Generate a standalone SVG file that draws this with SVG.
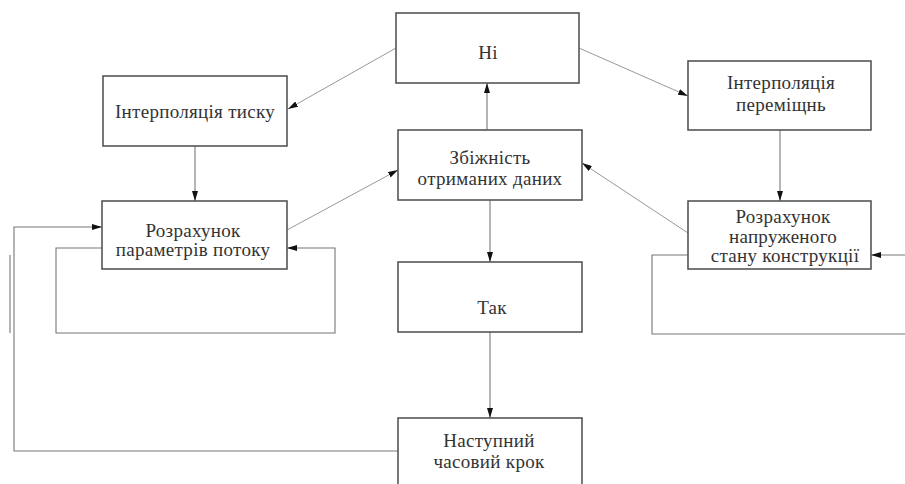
<svg xmlns="http://www.w3.org/2000/svg" width="905" height="484" viewBox="0 0 905 484">
<defs>
<marker id="ah" viewBox="0 0 10 6" refX="10" refY="3" markerWidth="10" markerHeight="6" markerUnits="userSpaceOnUse" orient="auto">
<path d="M0,0 L10,3 L0,6 Z" fill="#111"/>
</marker>
<style>
.box{fill:#fff;stroke:#555;stroke-width:1.6}
text{font-family:"Liberation Serif",serif;font-size:19px;fill:#333;text-anchor:middle;letter-spacing:0.3px}
.c{fill:none;stroke:#777;stroke-width:1.1}
.cl{fill:none;stroke:#999;stroke-width:1}
.a{marker-end:url(#ah)}
</style>
</defs>
<rect width="905" height="484" fill="#fff"/>
<g id="connectors">
<line class="cl a" x1="396" y1="48" x2="288" y2="109"/>
<line class="cl a" x1="579" y1="48" x2="688" y2="96"/>
<line class="c a" x1="195" y1="146" x2="195" y2="201"/>
<line class="c a" x1="780" y1="130" x2="780" y2="201"/>
<line class="c a" x1="487" y1="130" x2="487" y2="83"/>
<line class="c a" x1="490" y1="200" x2="490" y2="262"/>
<line class="c a" x1="490" y1="332" x2="490" y2="418"/>
<line class="cl a" x1="287" y1="230" x2="398" y2="170"/>
<line class="cl a" x1="688" y1="233" x2="582" y2="163"/>
<polyline class="c a" points="398,451 14,451 14,227 102,227"/>
<line class="c" x1="10" y1="255" x2="10" y2="333"/>
<polyline class="c a" points="102,248 56,248 56,333 335,333 335,248 287,248"/>
<polyline class="c" points="688,255 652,255 652,334 905,334"/>
<line class="c a" x1="905" y1="255" x2="871" y2="255"/>
</g>
<g id="n-ni">
<rect class="box" x="396" y="13" width="183" height="70"/>
<text x="488" y="59" font-family="Liberation Serif">Ні</text>
</g>
<g id="n-interp-tysku">
<rect class="box" x="103" y="76" width="184" height="70"/>
<text x="195" y="118" font-family="Liberation Serif">Інтерполяція тиску</text>
</g>
<g id="n-interp-peremishchn">
<rect class="box" x="688" y="61" width="183" height="69"/>
<text x="781" y="89" font-family="Liberation Serif">Інтерполяція</text>
<text x="781" y="111" font-family="Liberation Serif">переміщнь</text>
</g>
<g id="n-zbizhnist">
<rect class="box" x="398" y="130" width="184" height="70"/>
<text x="490" y="164" font-family="Liberation Serif">Збіжність</text>
<text x="490" y="185" font-family="Liberation Serif">отриманих даних</text>
</g>
<g id="n-rozrakhunok-potoku">
<rect class="box" x="102" y="201" width="185" height="68"/>
<text x="193" y="237" font-family="Liberation Serif">Розрахунок</text>
<text x="193" y="256" font-family="Liberation Serif" letter-spacing="0.8">параметрів потоку</text>
</g>
<g id="n-rozrakhunok-napruzhenoho">
<rect class="box" x="688" y="201" width="183" height="68"/>
<text x="783" y="223" font-family="Liberation Serif">Розрахунок</text>
<text x="783" y="243" font-family="Liberation Serif">напруженого</text>
<text x="785" y="262" font-family="Liberation Serif">стану конструкції</text>
</g>
<g id="n-tak">
<rect class="box" x="398" y="262" width="184" height="70"/>
<text x="492" y="314" font-family="Liberation Serif">Так</text>
</g>
<g id="n-nastupnyi">
<rect class="box" x="398" y="418" width="184" height="70"/>
<text x="489" y="447" font-family="Liberation Serif">Наступний</text>
<text x="489" y="468" font-family="Liberation Serif">часовий крок</text>
</g>
</svg>
